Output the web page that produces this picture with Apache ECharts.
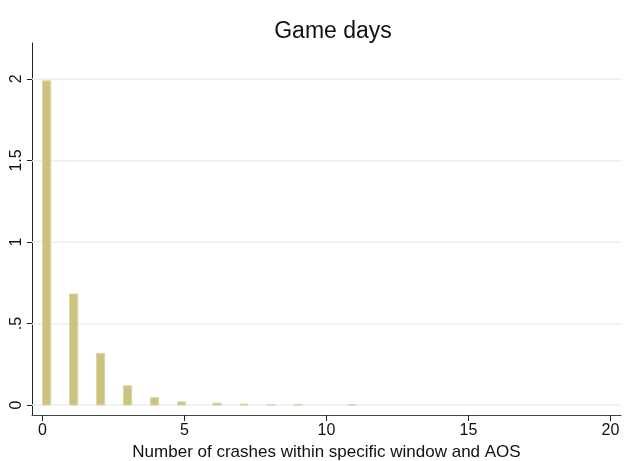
<!DOCTYPE html>
<html>
<head>
<meta charset="utf-8">
<script src="https://cdn.jsdelivr.net/npm/echarts@6/dist/echarts.min.js"></script>
<style>
  html, body { margin: 0; padding: 0; background: #fff; }
  #chart { width: 624px; height: 461px; }
</style>
</head>
<body>
<div id="chart"></div>
<script>
// bin left edges and bar heights
var binStarts = [0, 0.95, 1.9, 2.85, 3.8, 4.75, 6.0, 6.95, 7.9, 8.85, 10.75]
var heights = [1.988, 0.681, 0.317, 0.118, 0.045, 0.019, 0.012, 0.006, 0.003, 0.003, 0.002]
var xTicks = [0, 5, 10, 15, 20]
var yTicks = [0, 0.5, 1, 1.5, 2]

var FONT = 'Liberation Sans, Arial, Helvetica, sans-serif'
var barW = 0.29

var myChart = echarts.init(document.getElementById('chart'), null, { renderer: 'canvas' })

var data = binStarts.map(function (x, i) { return [x, heights[i]] })

myChart.setOption({
  animation: false,
  backgroundColor: '#fff',
  title: {
    text: 'Game days',
    left: 328,
    textAlign: 'center',
    top: 15,
    textStyle: { fontFamily: FONT, fontWeight: 'normal', fontSize: 23, color: '#111' }
  },
  grid: { left: 32, right: 3, top: 43, bottom: 46, outerBoundsMode: 'none', containLabel: false },
  xAxis: {
    type: 'value',
    min: -0.37,
    max: 20.37,
    name: 'Number of crashes within specific window and AOS',
    nameLocation: 'middle',
    nameGap: 29,
    nameTextStyle: { fontFamily: FONT, fontSize: 17, color: '#111' },
    axisLine: { show: true, onZero: false, lineStyle: { color: '#444', width: 1 } },
    axisTick: { show: true, customValues: xTicks, length: 6, lineStyle: { color: '#222' } },
    axisLabel: { customValues: xTicks, fontFamily: FONT, fontSize: 16, color: '#111', margin: 8 },
    splitLine: { show: false }
  },
  yAxis: {
    type: 'value',
    min: -0.061,
    max: 2.22,
    name: "'",
    nameLocation: 'middle',
    nameGap: 28,
    nameRotate: 90,
    nameTextStyle: { fontFamily: FONT, fontSize: 12, color: '#111' },
    axisLine: { show: true, onZero: false, lineStyle: { color: '#222', width: 1 } },
    axisTick: { show: true, customValues: yTicks, length: 5, lineStyle: { color: '#222' } },
    axisLabel: {
      customValues: yTicks,
      rotate: 90,
      fontFamily: FONT,
      fontSize: 16,
      color: '#111',
      margin: 7,
      formatter: function (v) {
        if (v === 0) return '0'
        return String(v).replace(/^0\./, '.')
      }
    },
    splitLine: { show: false }
  },
  series: [
    {
      // light horizontal grid lines
      type: 'line',
      data: [],
      silent: true,
      z: 0,
      markLine: {
        symbol: 'none',
        silent: true,
        label: { show: false },
        lineStyle: { color: '#e8f0f2', width: 1.5, type: 'solid' },
        data: yTicks.map(function (t) { return { yAxis: t } })
      }
    },
    {
      type: 'custom',
      z: 5,
      data: data,
      renderItem: function (params, api) {
        var x0 = api.value(0)
        var h = api.value(1)
        var p0 = api.coord([x0, 0])
        var p1 = api.coord([x0 + barW, h])
        return {
          type: 'rect',
          shape: { x: p0[0], y: p1[1], width: p1[0] - p0[0], height: p0[1] - p1[1] },
          style: { fill: '#cbc37f', stroke: '#ddd7a6', lineWidth: 1 }
        }
      }
    }
  ]
})
</script>
</body>
</html>
